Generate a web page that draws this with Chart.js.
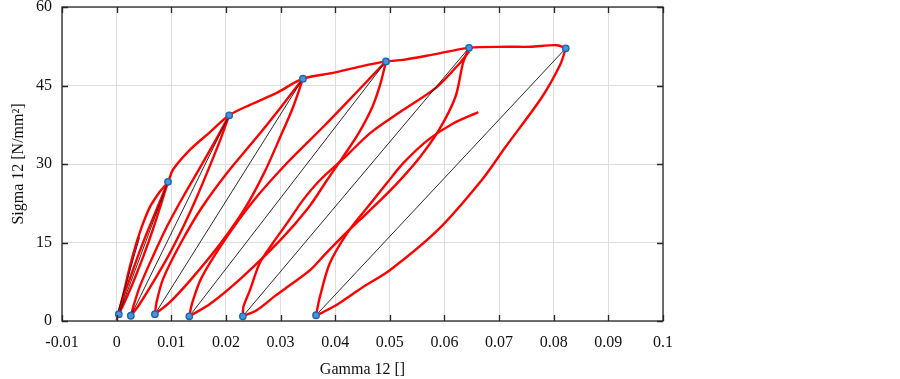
<!DOCTYPE html>
<html>
<head>
<meta charset="utf-8">
<script src="https://cdn.jsdelivr.net/npm/chart.js@4"></script>
<style>
  html,body{margin:0;padding:0;background:#fff;}
  #wrap{width:900px;height:379px;position:relative;}
</style>
</head>
<body>
<div id="wrap"><canvas id="c"></canvas></div>
<script>
// --- data: [gamma12, sigma12] ---
const loading = [[0,0.2],[0.0012,5],[0.0024,10.3],[0.0035,14.5],[0.0046,18],[0.0061,21.8],[0.0079,24.7],[0.0094,26.6],
  [0.0103,28.9],[0.0134,32.7],[0.0171,36.1],[0.0206,39.3],[0.0244,41.3],[0.0293,43.6],[0.0341,46.3],
  [0.0396,47.4],[0.0445,48.6],[0.0493,49.6],[0.0524,49.9],[0.0574,50.8],[0.0645,52.2],
  [0.0715,52.4],[0.0757,52.4],[0.0806,52.7],[0.0822,52.1]];

const unload1 = [[0.0094,26.6],[0.0085,23.56],[0.0075,20.28],[0.0063,16.48],[0.0050,12.69],[0.0036,8.89],[0.0021,5.1],[0.0010,2.57],[0.0004,1.3]];
const reload1 = [[0.0004,1.3],[0.0007,2.57],[0.0014,5.1],[0.0027,8.89],[0.0040,12.69],[0.0054,16.48],[0.0069,20.28],[0.0082,23.56],[0.0094,26.6]];

const unload2 = [[0.0206,39.3],[0.0190,34.7],[0.0171,29.73],[0.0148,23.98],[0.0123,18.24],[0.0095,12.49],[0.0063,6.75],[0.0040,2.92],[0.0026,1.0]];
const reload2 = [[0.0026,1.0],[0.0031,2.92],[0.0043,6.75],[0.0067,12.49],[0.0093,18.24],[0.0123,23.98],[0.0155,29.73],[0.0182,34.7],[0.0206,39.3]];

const unload3 = [[0.0341,46.3],[0.0323,40.9],[0.0299,35.05],[0.0270,28.3],[0.0235,21.55],[0.0190,14.8],[0.0137,8.05],[0.0097,3.55],[0.0070,1.3]];
const reload3 = [[0.0070,1.3],[0.0073,3.55],[0.0085,8.05],[0.0117,14.8],[0.0155,21.55],[0.0202,28.3],[0.0256,35.05],[0.0301,40.9],[0.0341,46.3]];

const unload4 = [[0.0493,49.6],[0.0483,45.4],[0.0468,40.9],[0.0443,35.9],[0.0414,31.3],[0.0385,26.9],[0.0352,21.8],[0.0300,15.5],[0.0228,8.2],[0.0172,3.34],[0.0133,0.9]];
const reload4 = [[0.0133,0.9],[0.0138,3.34],[0.0155,8.2],[0.0198,15.5],[0.0249,22.8],[0.0311,30.1],[0.0381,37.4],[0.0440,43.8],[0.0493,49.6]];

const unload5 = [[0.0645,52.2],[0.0634,49.3],[0.0620,42.8],[0.0590,36.5],[0.0555,31.3],[0.0515,26.5],[0.0480,22.8],[0.0445,19.3],[0.0410,15.8],[0.0380,12.6],[0.0355,9.8],[0.0322,7.2],[0.0290,4.8],[0.0257,2.1],[0.0231,0.9]];
const reload5 = [[0.0231,0.9],[0.0232,2.7],[0.0244,5.9],[0.0262,11.1],[0.0286,14.9],[0.0312,18.7],[0.0341,23.1],[0.0372,26.9],[0.0420,31.5],[0.0464,35.9],[0.0524,40.3],[0.0586,44.7],[0.0630,49.5],[0.0645,51.5]];

const unload6 = [[0.0822,52.1],[0.0812,49],[0.0778,42.7],[0.0712,33.3],[0.0668,26.9],[0.0588,17.4],[0.0500,9.7],[0.0451,6.5],[0.0403,3.1],[0.0378,1.7],[0.0365,1.1]];
const reload6 = [[0.0365,1.1],[0.0372,4.6],[0.0390,11],[0.0422,16.8],[0.0455,21.2],[0.0495,26.4],[0.0525,30.2],[0.0570,34.6],[0.0615,37.7],[0.0662,39.9]];

const valleysX = [0.0004,0.0026,0.0070,0.0133,0.0231,0.0365];
const valleysY = [1.3,1.0,1.3,0.9,0.9,1.1];
const peaksX = [0.0094,0.0206,0.0341,0.0493,0.0645,0.0822];
const peaksY = [26.6,39.3,46.3,49.6,52.2,52.1];
const initialSlope = [[0,0.8],[0.0042,16]];

const xTicks = [-0.01,0,0.01,0.02,0.03,0.04,0.05,0.06,0.07,0.08,0.09,0.1];
const yTicks = [0,15,30,45,60];

// --- datasets ---
const red = (d)=>({data:d, borderColor:'#ff0000', borderWidth:2.4, pointRadius:0, showLine:true, tension:0.3, order:3});
const redSets = [loading,unload1,reload1,unload2,reload2,unload3,reload3,unload4,reload4,unload5,reload5,unload6,reload6].map(red);

const blackSets = peaksX.map((px,i)=>({
  data:[[valleysX[i],valleysY[i]],[px,peaksY[i]]],
  borderColor:'rgba(20,20,20,0.9)', borderWidth:1, pointRadius:0, showLine:true, order:2
}));
blackSets.push({data:initialSlope, borderColor:'rgba(20,20,20,0.9)', borderWidth:1, pointRadius:0, showLine:true, order:2});

const pts = valleysX.map((x,i)=>[x,valleysY[i]]).concat(peaksX.map((x,i)=>[x,peaksY[i]]));
const blueSet = {data:pts, showLine:false, pointRadius:3.2, pointBackgroundColor:'#4d92d6',
  pointBorderColor:'#1a66b0', pointBorderWidth:1.4, order:1};

// box + inward ticks like the original plot
const frame = {
  id:'frame',
  afterDraw(ch){
    const {ctx, chartArea:a, scales:{x,y}} = ch;
    ctx.save();
    ctx.strokeStyle='#262626'; ctx.lineWidth=1.3;
    ctx.beginPath();
    xTicks.forEach(v=>{ const px=Math.round(x.getPixelForValue(v))+0.5;
      ctx.moveTo(px,a.bottom); ctx.lineTo(px,a.bottom-6); ctx.moveTo(px,a.top); ctx.lineTo(px,a.top+6); });
    yTicks.forEach(v=>{ const py=Math.round(y.getPixelForValue(v))+0.5;
      ctx.moveTo(a.left,py); ctx.lineTo(a.left+6,py); ctx.moveTo(a.right,py); ctx.lineTo(a.right-6,py); });
    ctx.stroke();
    ctx.strokeRect(a.left,a.top,a.right-a.left,a.bottom-a.top);
    ctx.restore();
  }
};

const serif = "'Liberation Serif','DejaVu Serif',serif";

new Chart(document.getElementById('c'), {
  type:'scatter',
  data:{ datasets:[...redSets, ...blackSets, blueSet] },
  options:{
    responsive:true, maintainAspectRatio:false, animation:false,
    layout:{ padding:{left:0, top:7, right:237, bottom:0} },
    plugins:{ legend:{display:false}, tooltip:{enabled:false} },
    scales:{
      x:{ type:'linear', min:-0.01, max:0.1,
        afterBuildTicks:s=>{ s.ticks = xTicks.map(v=>({value:v})); },
        afterFit:s=>{ s.height=58; s.paddingLeft=0; s.paddingRight=0; },
        grid:{ color:'#dedede', lineWidth:1, drawTicks:false },
        border:{ display:false },
        ticks:{ padding:12, color:'#111', font:{family:serif, size:16},
          callback:v=>String(parseFloat(v.toFixed(2))), maxRotation:0, autoSkip:false },
        title:{ display:true, text:'Gamma 12 []', color:'#111', font:{family:serif, size:16}, padding:{top:0,bottom:0} }
      },
      y:{ type:'linear', min:0, max:60,
        afterBuildTicks:s=>{ s.ticks = yTicks.map(v=>({value:v})); },
        afterFit:s=>{ s.width=62; s.paddingTop=0; s.paddingBottom=0; },
        grid:{ color:'#dedede', lineWidth:1, drawTicks:false },
        border:{ display:false },
        ticks:{ padding:10, color:'#111', font:{family:serif, size:16} },
        title:{ display:true, text:'Sigma 12 [N/mm²]', color:'#111', font:{family:serif, size:16}, padding:{top:9,bottom:0} }
      }
    }
  },
  plugins:[frame]
});
</script>
</body>
</html>
